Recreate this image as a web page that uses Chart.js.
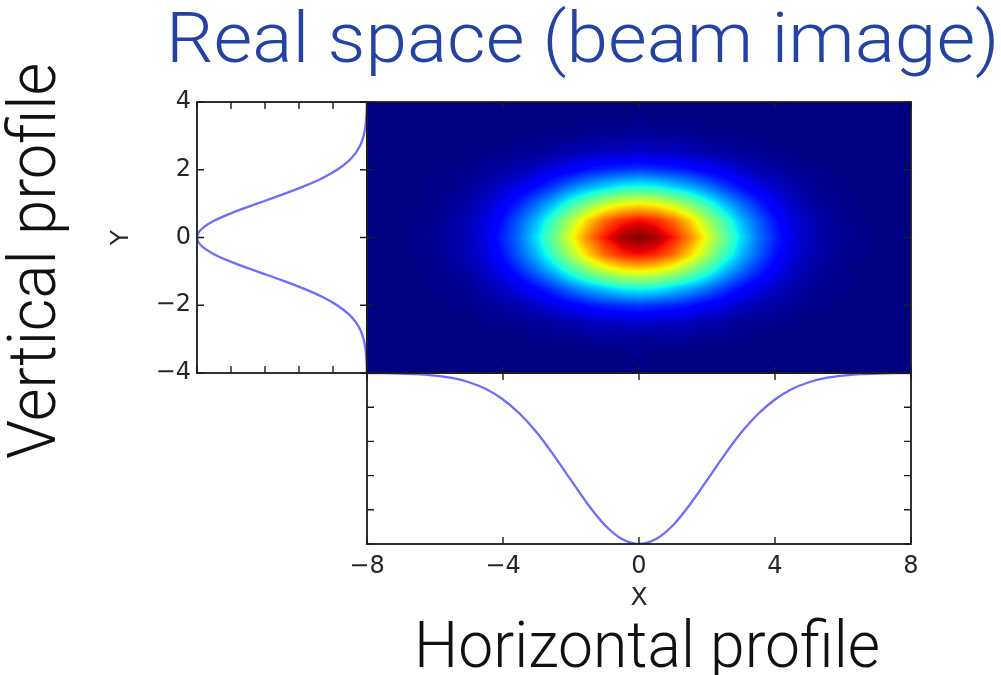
<!DOCTYPE html>
<html>
<head>
<meta charset="utf-8">
<title>Real space (beam image)</title>
<script src="https://cdn.jsdelivr.net/npm/chart.js@4.4.1/dist/chart.umd.min.js"></script>
<style>
html, body { margin:0; padding:0; background:#fff; }
#stage { position:relative; width:1001px; height:675px; overflow:hidden; background:#fff; }
#stage canvas { position:absolute; left:0; top:0; }
.big { position:absolute; white-space:nowrap; font-family:'Roboto','Liberation Sans',Arial,sans-serif; font-weight:300; line-height:1; margin:0; }
#title { left:166px; top:2px; font-size:71px; color:#2242a4; transform-origin:0 0; }
#hlabel { left:414px; top:614px; font-size:64px; color:#111; transform-origin:0 0; }
#vlabel { left:0px; top:459px; font-size:66px; color:#111; transform-origin:0 0; transform:rotate(-90deg); }
</style>
</head>
<body>
<div id="stage">
  <canvas id="cHeat" width="1001" height="675"></canvas>
  <canvas id="cVert" width="1001" height="675"></canvas>
  <canvas id="cHorz" width="1001" height="675"></canvas>
  <div class="big" id="title">Real space (beam image)</div>
  <div class="big" id="vlabel">Vertical profile</div>
  <div class="big" id="hlabel">Horizontal profile</div>
</div>
<script>
// ------------------------------------------------------------------ data
// tick labels
const xTickValues = [-8, -4, 0, 4, 8];
const yTickValues = [-4, -2, 0, 2, 4];
const profileTickValues = [0, 0.2, 0.4, 0.6, 0.8, 1];

// horizontal profile (bottom panel), sampled along X
const profileX = [-8,-7.5,-7,-6.5,-6,-5.5,-5,-4.5,-4,-3.5,-3,-2.5,-2,-1.5,-1,-0.5,0,0.5,1,1.5,2,2.5,3,3.5,4,4.5,5,5.5,6,6.5,7,7.5,8];
const horizontalProfile = [0.001,0.001,0.003,0.007,0.015,0.029,0.054,0.094,0.155,0.240,0.350,0.483,0.627,0.769,0.890,0.971,1.000,0.971,0.890,0.769,0.627,0.483,0.350,0.240,0.155,0.094,0.054,0.029,0.015,0.007,0.003,0.001,0.001];

// vertical profile (left panel), sampled along Y
const profileY = [-4,-3.75,-3.5,-3.25,-3,-2.75,-2.5,-2.25,-2,-1.75,-1.5,-1.25,-1,-0.75,-0.5,-0.25,0,0.25,0.5,0.75,1,1.25,1.5,1.75,2,2.25,2.5,2.75,3,3.25,3.5,3.75,4];
const verticalProfile = [0.001,0.002,0.005,0.010,0.020,0.037,0.066,0.111,0.176,0.264,0.376,0.507,0.647,0.783,0.897,0.973,1.000,0.973,0.897,0.783,0.647,0.507,0.376,0.264,0.176,0.111,0.066,0.037,0.020,0.010,0.005,0.002,0.001];

// beam image intensity grid: columns at heatX, rows (top to bottom) at heatY
const heatX = [-8,-7.5,-7,-6.5,-6,-5.5,-5,-4.5,-4,-3.5,-3,-2.5,-2,-1.5,-1,-0.5,0,0.5,1,1.5,2,2.5,3,3.5,4,4.5,5,5.5,6,6.5,7,7.5,8];
const heatY = [4,3.5,3,2.5,2,1.5,1,0.5,0,-0.5,-1,-1.5,-2,-2.5,-3,-3.5,-4];
const heatRows = [
  [0,0,0,0,0,0,0,0,0,0,0,0,0,0,0,0,0,0,0,0,0,0,0,0,0,0,0,0,0,0,0,0,0],
  [0,0,0,0,0,0,0,0,0,0,0,0,0,0,0,0,.01,0,0,0,0,0,0,0,0,0,0,0,0,0,0,0,0],
  [0,0,0,0,0,0,0,0,0,0,.01,.01,.01,.02,.02,.02,.02,.02,.02,.02,.01,.01,.01,0,0,0,0,0,0,0,0,0,0],
  [0,0,0,0,0,0,0,.01,.01,.02,.02,.03,.04,.05,.06,.06,.07,.06,.06,.05,.04,.03,.02,.02,.01,.01,0,0,0,0,0,0,0],
  [0,0,0,0,0,.01,.01,.02,.03,.04,.06,.09,.11,.14,.16,.17,.18,.17,.16,.14,.11,.09,.06,.04,.03,.02,.01,.01,0,0,0,0,0],
  [0,0,0,0,.01,.01,.02,.04,.06,.09,.13,.18,.24,.29,.33,.37,.38,.37,.33,.29,.24,.18,.13,.09,.06,.04,.02,.01,.01,0,0,0,0],
  [0,0,0,0,.01,.02,.03,.06,.10,.16,.23,.31,.41,.50,.58,.63,.65,.63,.58,.50,.41,.31,.23,.16,.10,.06,.03,.02,.01,0,0,0,0],
  [0,0,0,.01,.01,.03,.05,.08,.14,.22,.31,.43,.56,.69,.80,.87,.90,.87,.80,.69,.56,.43,.31,.22,.14,.08,.05,.03,.01,.01,0,0,0],
  [0,0,0,.01,.02,.03,.05,.09,.16,.24,.35,.48,.63,.77,.89,.97,1.00,.97,.89,.77,.63,.48,.35,.24,.16,.09,.05,.03,.02,.01,0,0,0],
  [0,0,0,.01,.01,.03,.05,.08,.14,.22,.31,.43,.56,.69,.80,.87,.90,.87,.80,.69,.56,.43,.31,.22,.14,.08,.05,.03,.01,.01,0,0,0],
  [0,0,0,0,.01,.02,.03,.06,.10,.16,.23,.31,.41,.50,.58,.63,.65,.63,.58,.50,.41,.31,.23,.16,.10,.06,.03,.02,.01,0,0,0,0],
  [0,0,0,0,.01,.01,.02,.04,.06,.09,.13,.18,.24,.29,.33,.37,.38,.37,.33,.29,.24,.18,.13,.09,.06,.04,.02,.01,.01,0,0,0,0],
  [0,0,0,0,0,.01,.01,.02,.03,.04,.06,.09,.11,.14,.16,.17,.18,.17,.16,.14,.11,.09,.06,.04,.03,.02,.01,.01,0,0,0,0,0],
  [0,0,0,0,0,0,0,.01,.01,.02,.02,.03,.04,.05,.06,.06,.07,.06,.06,.05,.04,.03,.02,.02,.01,.01,0,0,0,0,0,0,0],
  [0,0,0,0,0,0,0,0,0,0,.01,.01,.01,.02,.02,.02,.02,.02,.02,.02,.01,.01,.01,0,0,0,0,0,0,0,0,0,0],
  [0,0,0,0,0,0,0,0,0,0,0,0,0,0,0,0,.01,0,0,0,0,0,0,0,0,0,0,0,0,0,0,0,0],
  [0,0,0,0,0,0,0,0,0,0,0,0,0,0,0,0,0,0,0,0,0,0,0,0,0,0,0,0,0,0,0,0,0]
];

// ------------------------------------------------------------------ styling
const TICK_FONT = { family: "'DejaVu Sans', 'Liberation Sans', sans-serif", size: 24 };
const AXIS_TITLE_FONT = { family: "'DejaVu Sans', 'Liberation Sans', sans-serif", size: 25 };
const TICK_COLOR = '#262626';
const LINE_COLOR = 'rgba(25,25,255,0.64)';
const FRAME_COLOR = '#1c1c1c';

Chart.defaults.font.family = TICK_FONT.family;
Chart.defaults.color = TICK_COLOR;

// matplotlib "jet" colormap segments
const jetR = [[0,0],[0.35,0],[0.66,1],[0.89,1],[1,0.5]];
const jetG = [[0,0],[0.125,0],[0.375,1],[0.64,1],[0.91,0],[1,0]];
const jetB = [[0,0.5],[0.11,1],[0.34,1],[0.65,0],[1,0]];
function seg(s, v) {
  if (v <= s[0][0]) return s[0][1];
  for (let k = 1; k < s.length; k++) {
    if (v <= s[k][0]) {
      const t = (v - s[k-1][0]) / (s[k][0] - s[k-1][0]);
      return s[k-1][1] + (s[k][1] - s[k-1][1]) * t;
    }
  }
  return s[s.length-1][1];
}
const fmt = v => String(v).replace('-', '\u2212');

// draws the beam image through the chart's own scales
const heatmapPlugin = {
  id: 'heatmap',
  beforeDatasetsDraw(chart) {
    const a = chart.chartArea, xs = chart.scales.x, ys = chart.scales.y;
    const x0 = Math.round(a.left), y0 = Math.round(a.top);
    const w = Math.round(a.right) - x0, h = Math.round(a.bottom) - y0;
    const nx = heatX.length, ny = heatY.length;
    const dx = heatX[1] - heatX[0], dy = heatY[1] - heatY[0];
    const vmin = 0, vmax = 1;
    const fxs = new Float32Array(w);
    for (let i = 0; i < w; i++) {
      const f = (xs.getValueForPixel(x0 + i + 0.5) - heatX[0]) / dx;
      fxs[i] = Math.min(Math.max(f, 0), nx - 1);
    }
    const off = document.createElement('canvas');
    off.width = w; off.height = h;
    const octx = off.getContext('2d');
    const img = octx.createImageData(w, h);
    const d = img.data;
    for (let j = 0; j < h; j++) {
      let fy = (ys.getValueForPixel(y0 + j + 0.5) - heatY[0]) / dy;
      fy = Math.min(Math.max(fy, 0), ny - 1);
      const j0 = Math.min(Math.floor(fy), ny - 2), ty = fy - j0;
      const r0 = heatRows[j0], r1 = heatRows[j0 + 1];
      for (let i = 0; i < w; i++) {
        const fx = fxs[i];
        const i0 = Math.min(Math.floor(fx), nx - 2), tx = fx - i0;
        const top = r0[i0] * (1 - tx) + r0[i0 + 1] * tx;
        const bot = r1[i0] * (1 - tx) + r1[i0 + 1] * tx;
        let v = (top * (1 - ty) + bot * ty - vmin) / (vmax - vmin);
        v = Math.min(Math.max(v, 0), 1);
        const p = (j * w + i) * 4;
        d[p] = Math.round(seg(jetR, v) * 255);
        d[p + 1] = Math.round(seg(jetG, v) * 255);
        d[p + 2] = Math.round(seg(jetB, v) * 255);
        d[p + 3] = 255;
      }
    }
    octx.putImageData(img, 0, 0);
    chart.ctx.drawImage(off, x0, y0);
  }
};

// frame with inward ticks on all four sides, placed through the scales
const framePlugin = {
  id: 'frame',
  afterDatasetsDraw(chart, args, opts) {
    const { ctx, chartArea: a, scales } = chart;
    const L = 7;
    ctx.save();
    ctx.strokeStyle = FRAME_COLOR;
    ctx.lineWidth = 1.4;
    ctx.beginPath();
    (opts.xTicks || []).forEach(v => {
      const p = scales.x.getPixelForValue(v);
      ctx.moveTo(p, a.top); ctx.lineTo(p, a.top + L);
      ctx.moveTo(p, a.bottom); ctx.lineTo(p, a.bottom - L);
    });
    (opts.yTicks || []).forEach(v => {
      const p = scales.y.getPixelForValue(v);
      ctx.moveTo(a.left, p); ctx.lineTo(a.left + L, p);
      ctx.moveTo(a.right, p); ctx.lineTo(a.right - L, p);
    });
    ctx.stroke();
    ctx.lineWidth = 1.8;
    ctx.strokeRect(a.left, a.top, a.right - a.left, a.bottom - a.top);
    ctx.restore();
  }
};

const common = {
  responsive: false,
  animation: false,
  devicePixelRatio: 1,
  events: [],
};
const hidden = { display: false, grid: { display: false, drawTicks: false }, border: { display: false } };

// ---- beam image
const heatCells = [];
heatY.forEach((yv, j) => heatX.forEach((xv, i) => heatCells.push({ x: xv, y: yv, v: heatRows[j][i] })));
new Chart(document.getElementById('cHeat'), {
  type: 'scatter',
  data: { datasets: [{ label: 'beam image', data: heatCells, pointRadius: 0, pointHoverRadius: 0 }] },
  options: Object.assign({}, common, {
    layout: { padding: { left: 367, right: 90, top: 102, bottom: 302 } },
    plugins: { legend: { display: false }, tooltip: { enabled: false },
      frame: { xTicks: xTickValues, yTicks: yTickValues } },
    scales: {
      x: Object.assign({ type: 'linear', min: -8, max: 8 }, hidden),
      y: Object.assign({ type: 'linear', min: -4, max: 4 }, hidden)
    }
  }),
  plugins: [heatmapPlugin, framePlugin]
});

// ---- vertical profile (left)
new Chart(document.getElementById('cVert'), {
  type: 'scatter',
  data: { datasets: [{
    label: 'Vertical profile',
    data: profileY.map((y, i) => ({ x: verticalProfile[i], y: y })),
    showLine: true, pointRadius: 0, borderColor: LINE_COLOR, borderWidth: 2.3, tension: 0.3
  }] },
  options: Object.assign({}, common, {
    layout: { padding: { left: 0, right: 634, top: 102, bottom: 302 } },
    plugins: { legend: { display: false }, tooltip: { enabled: false },
      frame: { xTicks: profileTickValues, yTicks: yTickValues } },
    scales: {
      x: Object.assign({ type: 'linear', min: 0, max: 1, reverse: true }, hidden),
      y: {
        type: 'linear', min: -4, max: 4, position: 'left',
        afterBuildTicks: s => { s.ticks = yTickValues.map(v => ({ value: v })); },
        afterFit: s => { s.width = 197; },
        grid: { display: false, drawTicks: false },
        border: { display: false },
        ticks: { font: TICK_FONT, color: TICK_COLOR, padding: 6, callback: v => fmt(v) },
        title: { display: true, text: 'Y', font: AXIS_TITLE_FONT, color: TICK_COLOR, padding: { top: 106, bottom: 0 } }
      }
    }
  }),
  plugins: [framePlugin]
});

// ---- horizontal profile (bottom)
new Chart(document.getElementById('cHorz'), {
  type: 'scatter',
  data: { datasets: [{
    label: 'Horizontal profile',
    data: profileX.map((x, i) => ({ x: x, y: horizontalProfile[i] })),
    showLine: true, pointRadius: 0, borderColor: LINE_COLOR, borderWidth: 2.3, tension: 0.3
  }] },
  options: Object.assign({}, common, {
    layout: { padding: { left: 367, right: 90, top: 373, bottom: 0 } },
    plugins: { legend: { display: false }, tooltip: { enabled: false },
      frame: { xTicks: xTickValues, yTicks: profileTickValues } },
    scales: {
      x: {
        type: 'linear', min: -8, max: 8, position: 'bottom',
        afterBuildTicks: s => { s.ticks = xTickValues.map(v => ({ value: v })); },
        afterFit: s => { s.height = 131; },
        grid: { display: false, drawTicks: false },
        border: { display: false },
        ticks: { font: TICK_FONT, color: TICK_COLOR, padding: 8, maxRotation: 0, callback: v => fmt(v) },
        title: { display: true, text: 'X', font: AXIS_TITLE_FONT, color: TICK_COLOR, padding: { top: 0, bottom: 62 } }
      },
      y: Object.assign({ type: 'linear', min: 0, max: 1, reverse: true }, hidden)
    }
  }),
  plugins: [framePlugin]
});

// fit the large slide labels to the widths they occupy in the figure
function fitLabels() {
  const t = document.getElementById('title');
  t.style.transform = 'scaleX(' + (834 / t.offsetWidth) + ')';
  const h = document.getElementById('hlabel');
  h.style.transform = 'scaleX(' + (466 / h.offsetWidth) + ')';
  const v = document.getElementById('vlabel');
  v.style.transform = 'rotate(-90deg) scaleX(' + (396 / v.offsetWidth) + ')';
}
fitLabels();
if (document.fonts && document.fonts.ready) document.fonts.ready.then(fitLabels);
</script>
</body>
</html>
